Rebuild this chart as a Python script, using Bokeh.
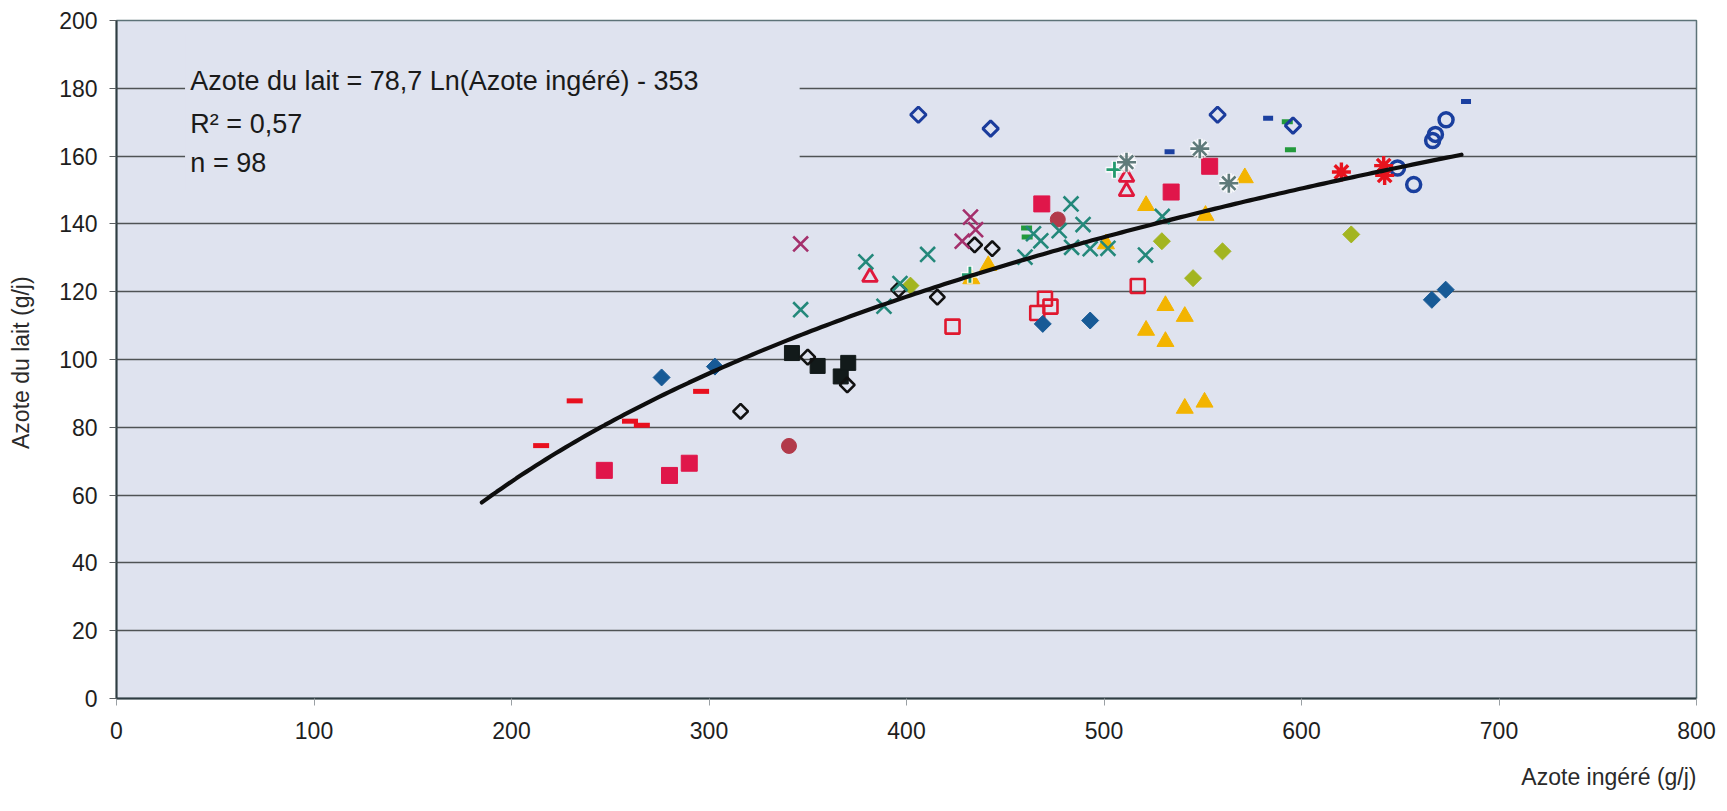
import numpy as np
from bokeh.plotting import figure
from bokeh.models import Range1d, FixedTicker, Label, BoxAnnotation, Title
from bokeh.embed import file_html
from bokeh.resources import INLINE

# ---------------- data ----------------
red_dash_x = [215, 232, 260, 266, 296]
red_dash_y = [74.6, 87.8, 81.8, 80.6, 90.6]

red_sq_x = [247, 280, 290, 468.5, 534, 553.5]
red_sq_y = [67.3, 65.8, 69.4, 145.9, 149.4, 157.0]

blue_diam_x = [276, 303, 469, 493, 666, 673]
blue_diam_y = [94.7, 97.9, 110.5, 111.5, 117.6, 120.6]

black_odiam_x = [316, 350, 370, 396, 415.6, 434.5, 443.4]
black_odiam_y = [84.7, 100.7, 92.5, 120.6, 118.4, 133.8, 132.7]

black_sq_x = [342, 355, 366.7, 370.5]
black_sq_y = [101.9, 98.1, 95.0, 99.0]

brown_circ_x = [340.5, 476.6]
brown_circ_y = [74.5, 141.3]

teal_x_x = [346.4, 379.4, 388.6, 396.7, 410.7, 460, 464.3, 468, 477.3, 483.3,
            489.4, 483.6, 493, 502, 521, 529.5]
teal_x_y = [114.7, 128.8, 115.7, 122.4, 131, 130.2, 137.1, 135, 138, 145.9,
            139.8, 133.1, 132.7, 132.8, 130.8, 142.2]

magenta_x_x = [346.4, 428.2, 432.4, 435]
magenta_x_y = [134.1, 134.9, 142, 138.3]

red_otri_x = [381.5, 511.4, 511.4]
red_otri_y = [124.3, 153.8, 149.6]

yellow_tri_x = [432.8, 441.4, 501, 521.3, 551.4, 571.3, 531.1, 540.9, 521.3,
                531.1, 540.9, 550.9]
yellow_tri_y = [123.8, 127.7, 134.1, 145.4, 142.5, 153.6, 115.9, 112.7, 108.6,
                105.3, 85.6, 87.4]

yg_diam_x = [402, 529.3, 545.1, 560, 625.2]
yg_diam_y = [121.8, 134.9, 124, 131.9, 136.9]

red_osq_x = [423.3, 466.2, 470.1, 472.9, 517.1]
red_osq_y = [109.7, 113.7, 117.9, 115.6, 121.7]

blue_odiam_x = [406, 442.6, 557.5, 595.7]
blue_odiam_y = [172.2, 168.1, 172.2, 169.0]

navy_dash_x = [533.2, 583.1, 683.3]
navy_dash_y = [161.3, 171.2, 176.1]

green_dash_x = [460.8, 461.1, 592.8, 594.4]
green_dash_y = [138.8, 136.1, 170.1, 161.9]

green_plus_x = [432.1, 505.3]
green_plus_y = [125.0, 156.0]

gray_ast_x = [511.4, 548.5, 563.2]
gray_ast_y = [158.2, 162.2, 152.0]

red_ast_x = [620.2, 641.6, 642.1]
red_ast_y = [155.3, 157.2, 154.3]

blue_ocirc_x = [648.6, 656.8, 666.4, 667.8, 673.2]
blue_ocirc_y = [156.5, 151.6, 164.6, 166.4, 170.7]

# logarithmic trend line printed on the chart: y = 78.7 ln(x) - 353
trend_a = 78.7
trend_b = -353
trend_x_min = 185
trend_x_max = 681

x_ticks = [0, 100, 200, 300, 400, 500, 600, 700, 800]
y_ticks = [0, 20, 40, 60, 80, 100, 120, 140, 160, 180, 200]

eq_lines = ["Azote du lait = 78,7 Ln(Azote ingéré) - 353", "R² = 0,57", "n = 98"]
x_label = "Azote ingéré (g/j)"
y_label = "Azote du  lait (g/j)"

FONT = "Liberation Sans"
BG = "#dfe3ef"

# ---------------- figure ----------------
p = figure(width=1718, height=810,
           x_range=Range1d(0, 800), y_range=Range1d(0, 200),
           output_backend="svg", toolbar_location=None,
           min_border_left=116, min_border_right=22,
           min_border_top=20, min_border_bottom=112,
           background_fill_color=BG, border_fill_color="white")

p.outline_line_color = "#5d7378"
p.outline_line_width = 1.5

p.xgrid.grid_line_color = None
p.ygrid.ticker = FixedTicker(ticks=y_ticks)
p.ygrid.grid_line_color = "#4f5355"
p.ygrid.grid_line_width = 1.4

p.xaxis.ticker = FixedTicker(ticks=x_ticks)
p.yaxis.ticker = FixedTicker(ticks=y_ticks)
for ax in (p.xaxis, p.yaxis):
    ax.minor_tick_line_color = None
    ax.major_tick_in = 0
    ax.major_tick_out = 7
    ax.major_label_text_font = FONT
    ax.major_label_text_font_size = "23px"
    ax.major_label_text_color = "#1e1e1e"
    ax.axis_label_text_font = FONT
    ax.axis_label_text_font_size = "23px"
    ax.axis_label_text_font_style = "normal"
    ax.axis_label_text_color = "#2a2a2a"
    ax.axis_line_color = "#2f3d42"
    ax.axis_line_width = 2

p.xaxis.major_tick_line_color = "#9aa0a4"
p.yaxis.major_tick_line_color = "#5a5f62"
p.xaxis.major_label_standoff = 16
p.yaxis.major_label_standoff = 12

p.yaxis.axis_label = y_label
p.yaxis.axis_label_standoff = 22

# x-axis title, right-aligned under the frame
p.add_layout(Title(text=x_label, align="right", text_font=FONT,
                   text_font_size="23px", text_font_style="normal",
                   text_color="#2a2a2a", standoff=40), "below")

# box behind the equation text (hides the gridlines there)
p.add_layout(BoxAnnotation(left=34.7, right=345.9, bottom=150, top=196,
                           fill_color=BG, fill_alpha=1.0, line_color=None,
                           level="underlay"))

# ---------------- series ----------------
D = np.pi / 4

p.scatter(green_dash_x, green_dash_y, marker="dash", size=11, line_width=5,
          line_color="#239a3c")
p.scatter(yellow_tri_x, yellow_tri_y, marker="triangle", size=17,
          fill_color="#f3b400", line_color="#f3b400", line_width=1)
p.scatter(yg_diam_x, yg_diam_y, marker="square", angle=D, size=12,
          fill_color="#a3b520", line_color="#a3b520")
p.scatter(red_osq_x, red_osq_y, marker="square", size=14, fill_color=None,
          line_color="#e0182e", line_width=2.6)
p.scatter(blue_diam_x, blue_diam_y, marker="square", angle=D, size=12,
          fill_color="#175a96", line_color="#175a96")
p.scatter(black_sq_x, black_sq_y, marker="square", size=15,
          fill_color="#121a1a", line_color="#121a1a")
p.scatter(black_odiam_x, black_odiam_y, marker="square", angle=D, size=10.5,
          fill_color=None, line_color="#111111", line_width=2.6)
p.scatter(red_sq_x, red_sq_y, marker="square", size=16,
          fill_color="#e0164a", line_color="#e0164a")
p.scatter(brown_circ_x, brown_circ_y, marker="circle", size=15,
          fill_color="#b23a4a", line_color="#b23a4a")
p.scatter(red_otri_x, red_otri_y, marker="triangle", size=15, fill_color=None,
          line_color="#e0183c", line_width=2.8)
p.scatter(teal_x_x, teal_x_y, marker="x", size=21, line_color="#23887a",
          line_width=2.6)
p.scatter(magenta_x_x, magenta_x_y, marker="x", size=21, line_color="#a4306c",
          line_width=2.6)
p.scatter(green_plus_x, green_plus_y, marker="cross", size=18,
          line_color="white", line_alpha=0.8, line_width=6)
p.scatter(green_plus_x, green_plus_y, marker="cross", size=16,
          line_color="#229a6e", line_width=2.8)
p.scatter(gray_ast_x, gray_ast_y, marker="asterisk", size=20,
          line_color="white", line_alpha=0.8, line_width=6)
p.scatter(gray_ast_x, gray_ast_y, marker="asterisk", size=19,
          line_color="#5f7a7a", line_width=2.6)
p.scatter(blue_odiam_x, blue_odiam_y, marker="square", angle=D, size=11,
          fill_color=None, line_color="#1b3c9c", line_width=3)
p.scatter(navy_dash_x, navy_dash_y, marker="dash", size=10, line_width=5,
          line_color="#1b40a0")
p.scatter(red_dash_x, red_dash_y, marker="dash", size=16, line_width=5,
          line_color="#e8101e")
p.scatter(blue_ocirc_x, blue_ocirc_y, marker="circle", size=14, fill_color=None,
          line_color="#1a3f9e", line_width=3.5)
p.scatter(red_ast_x, red_ast_y, marker="asterisk", size=19,
          line_color="#e8141e", line_width=3.4)

# trend line
tx = np.linspace(trend_x_min, trend_x_max, 200)
ty = trend_a * np.log(tx) + trend_b
p.line(tx, ty, line_color="#0e0e0e", line_width=4.2, line_cap="round")

# equation text
for txt, yy in zip(eq_lines, [182.3, 169.6, 158.1]):
    p.add_layout(Label(x=37.4, y=yy, text=txt, text_font=FONT,
                       text_font_size="27px", text_baseline="middle",
                       text_color="#1a1a1a"))

open("out.html", "w").write(file_html(p, INLINE))
